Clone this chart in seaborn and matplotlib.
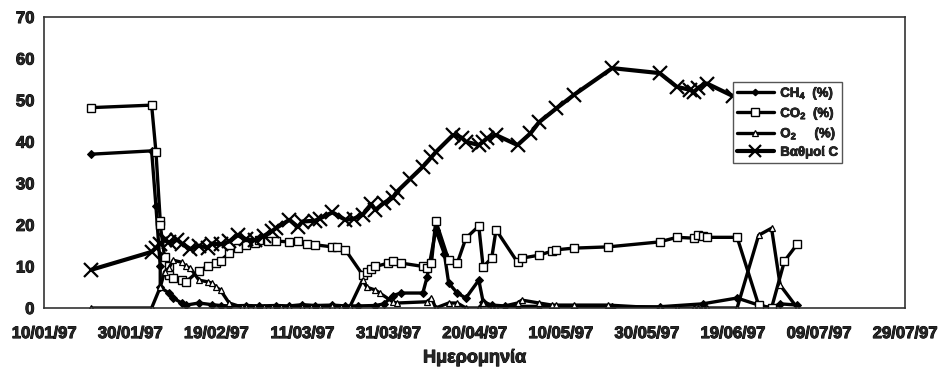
import matplotlib
matplotlib.use("Agg")
import matplotlib.pyplot as plt
import matplotlib.dates as mdates
import matplotlib.patheffects as pe
from matplotlib.lines import Line2D
import pandas as pd
import seaborn as sns

# Sampling days are counted from 10/01/97
START = pd.Timestamp("1997-01-10")

ch4_day = [11, 25, 26, 27, 27, 29, 30, 32, 33, 36, 39, 41, 43, 47, 50, 54, 57, 60,
           63, 67, 70, 73, 77, 79, 81, 83, 88, 89, 91, 93, 94, 96, 98, 101, 102, 104,
           107, 110, 115, 123, 132, 143, 153, 161, 166, 169, 171, 175]
ch4_val = [37.0, 37.8, 24.5, 10.0, 5.0, 3.6, 2.4, 1.2, 0.7, 1.2, 0.8, 0.6, 0.5, 0.6, 0.5,
           0.6, 0.5, 0.8, 0.6, 0.7, 0.5, 0.5, 0.6, 1.0, 3.0, 3.6, 3.6, 7.5, 18.8, 13.0,
           6.0, 3.6, 2.4, 6.7, 1.5, 0.7, 0.5, 0.4, 0.4, 0.3, 0.3, 0.3, 1.0, 2.4, 0.7,
           0.0, 1.0, 0.7]

co2_day = [11, 25, 26, 27, 27, 28, 29, 29, 30, 32, 33, 36, 38, 40, 41, 43, 45, 47, 49,
           50, 52, 54, 57, 59, 61, 63, 67, 68, 70, 74, 75, 76, 77, 80, 81, 83, 88, 89,
           90, 91, 94, 96, 98, 101, 102, 104, 105, 110, 111, 115, 118, 119, 123, 131,
           143, 147, 151, 152, 153, 154, 161, 166, 169, 172, 175]
co2_val = [48.2, 48.8, 37.6, 21.0, 20.0, 12.3, 10.0, 8.0, 7.2, 6.7, 6.3, 9.0, 10.0, 10.8,
           11.4, 13.2, 14.4, 15.2, 15.6, 16.3, 16.1, 16.1, 15.9, 16.1, 15.4, 15.2, 14.7,
           14.7, 14.0, 8.0, 8.7, 9.4, 10.0, 10.8, 11.3, 10.8, 10.0, 9.6, 10.8, 21.0,
           11.5, 10.8, 16.8, 19.7, 9.9, 12.0, 18.8, 11.0, 12.0, 12.7, 13.7, 14.0, 14.4,
           14.7, 15.9, 17.0, 16.8, 17.5, 17.3, 17.0, 17.0, 0.7, 0.0, 11.3, 15.4]

o2_day = [11, 25, 27, 28, 29, 30, 32, 33, 34, 36, 38, 39, 40, 41, 43, 46, 47, 49, 51,
          53, 55, 57, 60, 62, 64, 67, 69, 71, 74, 75, 77, 78, 81, 82, 89, 90, 91, 94,
          96, 98, 101, 102, 104, 105, 110, 111, 115, 118, 119, 123, 131, 143, 147, 151,
          152, 153, 154, 161, 166, 169, 171, 175]
o2_val = [0.0, 0.0, 5.0, 8.7, 9.6, 11.5, 11.0, 10.0, 9.6, 6.7, 6.3, 6.0, 5.0, 4.3, 1.2,
          0.2, 0.2, 0.3, 0.2, 0.3, 0.2, 0.3, 0.3, 0.2, 0.3, 0.4, 0.3, 0.2, 6.7, 5.0, 4.3,
          3.6, 1.5, 1.2, 1.5, 2.4, 0.0, 1.2, 1.2, 0.0, 0.0, 1.2, 0.0, 0.0, 1.2, 1.9, 1.2,
          0.7, 0.7, 0.7, 0.7, 0.0, 0.0, 0.0, 0.0, 0.0, 0.0, 0.0, 17.5, 19.2, 5.5, 0.0]

temp_day = [11, 25, 26, 27, 28, 29, 31, 32, 34, 36, 38, 39, 41, 43, 45, 47, 49, 51, 53,
            54, 57, 59, 60, 63, 64, 67, 70, 72, 74, 76, 77, 79, 81, 82, 85, 88, 90, 91,
            95, 97, 98, 101, 102, 103, 105, 110, 113, 115, 119, 123, 132, 143, 147, 150,
            151, 152, 154, 160]
temp_val = [9.2, 13.5, 14.5, 15.5, 16.3, 15.8, 16.4, 15.5, 14.2, 15.0, 14.5, 15.5, 15.3,
            16.0, 17.5, 16.5, 16.3, 17.3, 18.5, 19.3, 21.2, 19.5, 20.8, 21.0, 21.5, 23.0,
            21.2, 21.5, 22.4, 25.0, 23.6, 25.3, 26.5, 28.0, 31.0, 34.0, 36.3, 37.5, 41.6,
            41.0, 40.0, 39.2, 40.0, 40.9, 41.6, 39.2, 42.0, 44.7, 48.0, 51.2, 57.7, 56.5,
            53.2, 52.5, 52.0, 53.0, 54.0, 51.0]

series_labels = ["CH$_4$  (%)", "CO$_2$  (%)", "O$_2$     (%)", "Βαθμοί C"]
x_label = "Ημερομηνία"
tick_start, tick_end, tick_step = "1997-01-10", "1997-07-29", 20

sns.set_style("white")
plt.rcParams["font.family"] = ["Liberation Sans", "DejaVu Sans"]
plt.rcParams["font.weight"] = "bold"
plt.rcParams["mathtext.fontset"] = "custom"
plt.rcParams["mathtext.bf"] = "Liberation Sans:bold"
plt.rcParams["mathtext.rm"] = "Liberation Sans:bold"
plt.rcParams["mathtext.default"] = "bf"

# a thin outline in the text colour gives the heavy, inked look of the labels
heavy = [pe.withStroke(linewidth=0.7, foreground="black")]


def frame(days, vals):
    return pd.DataFrame({"date": START + pd.to_timedelta(days, unit="D"), "value": vals})


fig = plt.figure(figsize=(9.42, 3.72), dpi=100)
ax = fig.add_axes([44 / 942, 1 - 308 / 372, (905 - 44) / 942, (308 - 17) / 372])

styles = [
    dict(marker="D", markersize=3.8, markerfacecolor="black", markeredgecolor="black", lw=2.4),
    dict(marker="s", markersize=6, markerfacecolor="white", markeredgecolor="black",
         markeredgewidth=1.0, lw=2.4),
    dict(marker="^", markersize=4.5, markerfacecolor="white", markeredgecolor="black",
         markeredgewidth=0.9, lw=2.4),
    dict(marker="x", markersize=10, markeredgecolor="black", markeredgewidth=1.6, lw=3.0),
]
data = [(ch4_day, ch4_val), (co2_day, co2_val), (o2_day, o2_val), (temp_day, temp_val)]

for (d, v), st in zip(data, styles):
    sns.lineplot(data=frame(d, v), x="date", y="value", estimator=None, sort=False,
                 color="black", ax=ax, **st)

ax.set_ylim(0, 70)
ax.set_yticks(range(0, 71, 10))
ax.set_xlim(pd.Timestamp(tick_start), pd.Timestamp(tick_end))
ax.set_xticks(pd.date_range(tick_start, tick_end, freq=f"{tick_step}D"))
ax.xaxis.set_major_formatter(mdates.DateFormatter("%d/%m/%y"))
ax.tick_params(axis="both", labelsize=12, direction="out", length=4, width=1,
               color="#555555", pad=3)
ax.tick_params(axis="x", pad=9)

for sp in ax.spines.values():
    sp.set_color("#333333")
    sp.set_linewidth(1.2)

ax.set_ylabel("")
ax.set_xlabel(x_label, fontsize=13, fontweight="bold", labelpad=6)
ax.xaxis.label.set_path_effects(heavy)

legend_handles = []
for st in styles:
    hs = dict(st)
    hs["markersize"] = st["markersize"] * 0.85
    legend_handles.append(Line2D([], [], color="black", **hs))
leg = ax.legend(legend_handles, series_labels, loc="upper left",
                bbox_to_anchor=(0.800, 0.777), borderaxespad=0, frameon=True,
                fancybox=False, framealpha=1, edgecolor="#555555", fontsize=9.5,
                handlelength=2.8, handletextpad=0.5, borderpad=0.3, labelspacing=0.32)
leg.get_frame().set_linewidth(1.0)
for t in leg.get_texts():
    t.set_fontweight("bold")
    t.set_path_effects([pe.withStroke(linewidth=0.5, foreground="black")])

fig.canvas.draw()
for lab in ax.get_xticklabels() + ax.get_yticklabels():
    lab.set_fontweight("bold")
    lab.set_path_effects(heavy)

fig.savefig("out.png", dpi=100)
